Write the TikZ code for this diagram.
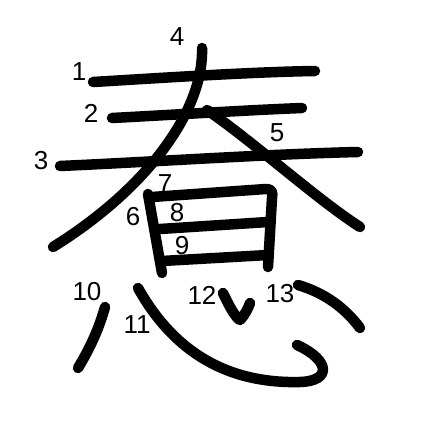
\documentclass[tikz,border=0pt]{standalone}
\usepackage{fontspec}
\setmainfont{Liberation Sans}
\begin{document}
\begin{tikzpicture}[x=1pt,y=-1pt,
  stroke/.style={line width=10.5pt,line cap=round,line join=round},
  num/.style={font=\fontsize{26}{26}\selectfont,inner sep=0pt}]
\useasboundingbox[fill=white] (0,0) rectangle (447,447);
% strokes
\draw[stroke] (93,82) .. controls (160,78) and (250,72) .. (315,71);
\draw[stroke] (112,118) .. controls (170,115) and (250,110) .. (302,108);
\draw[stroke] (60,166) .. controls (150,162) and (270,154) .. (358,152);
\draw[stroke] (202,48) .. controls (204,110) and (148,188) .. (53,247);
\draw[stroke] (207,110) .. controls (255,143) and (315,198) .. (360,227);
\draw[stroke] (148,194) -- (162,273);
\draw[stroke] (152,197) -- (266,189) .. controls (272,189) and (273,192) .. (272,198) -- (268,267);
\draw[stroke] (160,229) -- (268,222);
\draw[stroke] (162,261) -- (268,255);
\draw[stroke] (105,307) .. controls (100,325) and (92,345) .. (78,368);
\draw[stroke] (138,288) .. controls (170,345) and (220,384) .. (300,382) .. controls (332,381) and (330,360) .. (297,345);
\draw[stroke] (223,293) .. controls (230,308) and (236,318) .. (240,320) .. controls (244,316) and (248,309) .. (250,303);
\draw[stroke] (298,285) .. controls (325,293) and (345,308) .. (360,328);
% numbers
\node[num] (n1) at (79,72) {1};
\node[num] (n2) at (91,113) {2};
\node[num] (n3) at (41,161) {3};
\node[num] (n4) at (177,37) {4};
\node[num] (n5) at (277,133) {5};
\node[num] (n6) at (133,217) {6};
\node[num] (n7) at (165,184) {7};
\node[num] (n8) at (177,213) {8};
\node[num] (n9) at (182,246) {9};
\node[num] (n10) at (87,292) {10};
\node[num] (n11) at (137,325) {11};
\node[num] (n12) at (202,295) {12};
\node[num] (n13) at (280,294) {13};
\end{tikzpicture}
\end{document}
